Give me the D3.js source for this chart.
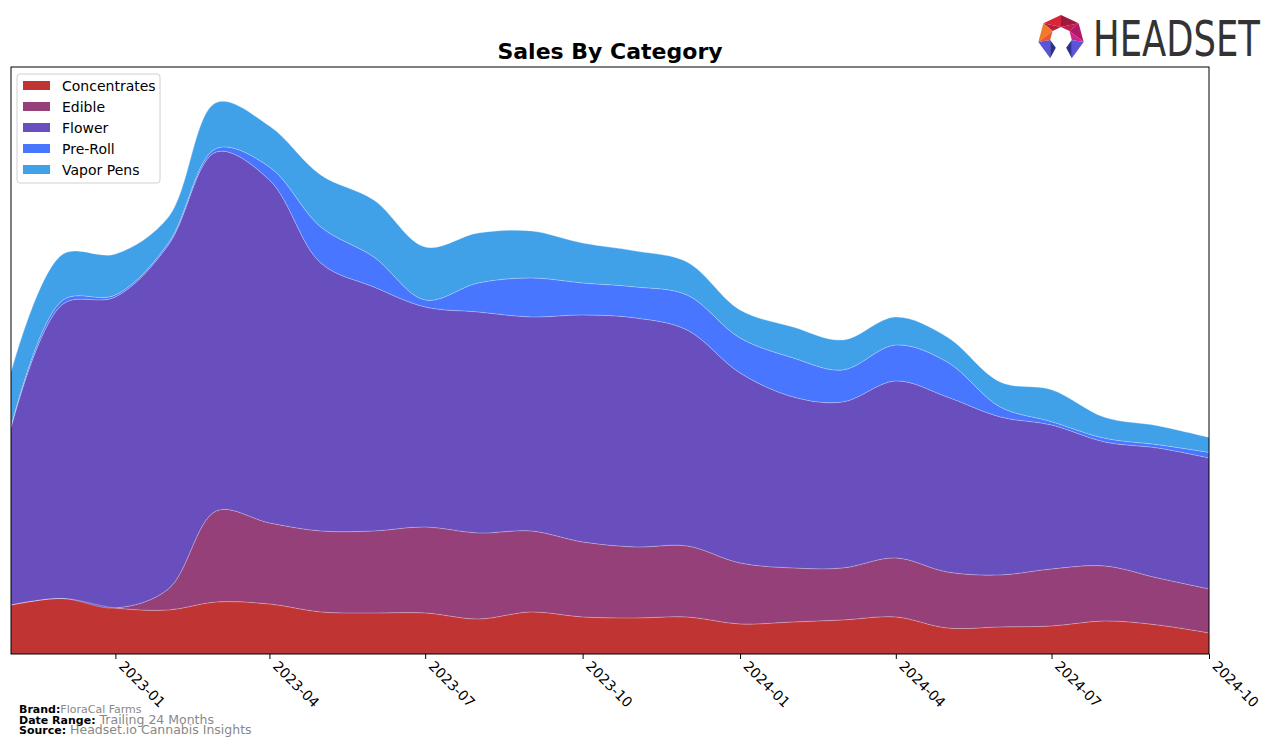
<!DOCTYPE html>
<html>
<head>
<meta charset="utf-8">
<script src="https://cdn.jsdelivr.net/npm/d3@7"></script>
<style>
  body { margin: 0; background: #fff; }
  text { font-family: "DejaVu Sans", sans-serif; }
</style>
</head>
<body>
<svg id="chart_root" width="1276" height="747"></svg>
<script>
// monthly points
var months = ["2022-11", "2022-12", "2023-01", "2023-02", "2023-03", "2023-04", "2023-05", "2023-06",
              "2023-07", "2023-08", "2023-09", "2023-10", "2023-11", "2023-12", "2024-01", "2024-02",
              "2024-03", "2024-04", "2024-05", "2024-06", "2024-07", "2024-08", "2024-09", "2024-10"];
var categories = ["Concentrates", "Edible", "Flower", "Pre-Roll", "Vapor Pens"];
var concentrates = [49, 55.5, 46, 44, 52, 50, 42, 41, 41, 35, 42, 37, 36, 37, 30, 32, 34, 37, 26, 27, 28, 33, 29, 21];
var edible = [0, 0, 0, 21, 91, 81, 81, 82, 86, 86, 81, 75, 71, 71, 61, 54, 52, 59, 56, 52, 57, 55, 47, 44];
var flower = [177, 294, 311, 344, 359, 343, 268, 244, 220, 221, 214, 227, 229, 216, 190, 171, 166, 177, 175, 158, 144, 124, 130, 131];
var preroll = [0.5, 4, 2, 2, 3.5, 13, 36, 30, 7, 29, 39, 32, 31, 35, 35, 39, 32, 36, 35, 10, 3.3, 3.7, 3.3, 5.6];
var vapor = [55, 46, 41, 26, 46, 41, 52, 57, 53, 50, 47, 40, 36, 33, 28, 31, 30, 28, 25, 25, 32, 21, 19, 15];
var tick_labels = ["2023-01", "2023-04", "2023-07", "2023-10", "2024-01", "2024-04", "2024-07", "2024-10"];

var colours = ["#c03434", "#954079", "#684fbd", "#4876fe", "#40a0e8"];
var series_values = [concentrates, edible, flower, preroll, vapor];

var margin_left = 11, margin_right = 1209, margin_top = 67, margin_bottom = 654;
var parse_month = d3.timeParse("%Y-%m");

// build rows for d3.stack
var rows = months.map(function(m, i) {
    var row = {date: parse_month(m)};
    categories.forEach(function(c, j) { row[c] = series_values[j][i]; });
    return row;
});

var svg = d3.select("#chart_root");

var x = d3.scaleTime()
    .domain([rows[0].date, rows[rows.length - 1].date])
    .range([margin_left, margin_right]);
var y = d3.scaleLinear()
    .domain([0, 587])
    .range([margin_bottom, margin_top]);

var stacked = d3.stack().keys(categories)(rows);

var area = d3.area()
    .curve(d3.curveCatmullRom.alpha(0.5))
    .x(function(d) { return x(d.data.date); })
    .y0(function(d) { return y(d[0]); })
    .y1(function(d) { return y(d[1]); });
var top_line = d3.line()
    .curve(d3.curveCatmullRom.alpha(0.5))
    .x(function(d) { return x(d.data.date); })
    .y(function(d) { return y(d[1]); });

var plot = svg.append("g");
plot.selectAll("path.layer")
    .data(stacked)
    .enter()
    .append("path")
    .attr("class", "layer")
    .attr("fill", function(d, i) { return colours[i]; })
    .attr("d", area);
plot.selectAll("path.edge")
    .data(stacked)
    .enter()
    .append("path")
    .attr("class", "edge")
    .attr("fill", "none")
    .attr("stroke", "rgba(255,255,255,0.3)")
    .attr("stroke-width", 1)
    .attr("d", top_line);

// frame
svg.append("rect")
    .attr("x", margin_left).attr("y", margin_top)
    .attr("width", margin_right - margin_left)
    .attr("height", margin_bottom - margin_top)
    .attr("fill", "none")
    .attr("stroke", "#000")
    .attr("stroke-width", 1);

// x axis
var x_axis = svg.append("g")
    .attr("transform", "translate(0," + margin_bottom + ")")
    .call(d3.axisBottom(x)
        .tickValues(tick_labels.map(parse_month))
        .tickFormat(d3.timeFormat("%Y-%m"))
        .tickSize(5));
x_axis.select(".domain").remove();
x_axis.selectAll(".tick line").attr("stroke", "#000");
x_axis.selectAll(".tick text")
    .attr("fill", "#000")
    .attr("font-size", "14px")
    .attr("text-anchor", "start")
    .attr("x", 0).attr("y", 0).attr("dy", 0)
    .attr("transform", "translate(2,13) rotate(45)");

// title
svg.append("text")
    .attr("x", 610).attr("y", 59)
    .attr("text-anchor", "middle")
    .attr("font-size", "22px")
    .attr("font-weight", "bold")
    .text("Sales By Category");

// legend
var legend = svg.append("g").attr("transform", "translate(17,74)");
legend.append("rect")
    .attr("width", 143).attr("height", 109)
    .attr("rx", 3)
    .attr("fill", "rgba(255,255,255,0.8)")
    .attr("stroke", "#d0d0d0");
categories.forEach(function(c, i) {
    legend.append("rect")
        .attr("x", 6).attr("y", 7 + i * 21)
        .attr("width", 27).attr("height", 9)
        .attr("fill", colours[i]);
    legend.append("text")
        .attr("x", 45).attr("y", 17 + i * 21)
        .attr("font-size", "14px")
        .text(c);
});

// footer
var footer = [["Brand:", "FloraCal Farms", "11px"], ["Date Range:", "Trailing 24 Months", "12.5px"], ["Source:", "Headset.io Cannabis Insights", "12.5px"]];
footer.forEach(function(f, i) {
    var t = svg.append("text")
        .attr("x", 19).attr("y", 713 + i * 10.5)
        .attr("font-size", "11px");
    t.append("tspan").attr("font-weight", "bold").attr("fill", "#000").text(f[0]);
    t.append("tspan").attr("fill", "#888").attr("font-size", f[2]).text((i === 0 ? "" : " ") + f[1]);
});

// logo
var logo = svg.append("g");
var cx = 1061, cy = 38, R = 23, r = 11;
function pt(a, rad) { var t = a * Math.PI / 180; return [cx + rad * Math.cos(t), cy + rad * Math.sin(t)]; }
var pieces = [[-90, -140, "#d8253a", "#b81e3c"], [-140, 170, "#f07a2a", "#e85530"],
              [170, 118, "#5a55d8", "#2e2f8a"], [-90, -40, "#9e1840", "#c01e48"],
              [-40, 10, "#b0186a", "#d02288"], [10, 62, "#5a55d8", "#2e2f8a"]];
pieces.forEach(function(p) {
    var o1 = pt(p[0], R), o2 = pt(p[1], R), i1 = pt(p[0], r), i2 = pt(p[1], r);
    logo.append("polygon").attr("points", [o1, o2, i1].join(" ")).attr("fill", p[2]);
    logo.append("polygon").attr("points", [o2, i2, i1].join(" ")).attr("fill", p[3]);
});
logo.append("text")
    .attr("x", 1093).attr("y", 56)
    .attr("font-size", "50px")
    .attr("fill", "#333")
    .attr("textLength", 167)
    .attr("lengthAdjust", "spacingAndGlyphs")
    .text("HEADSET");
</script>
</body>
</html>
